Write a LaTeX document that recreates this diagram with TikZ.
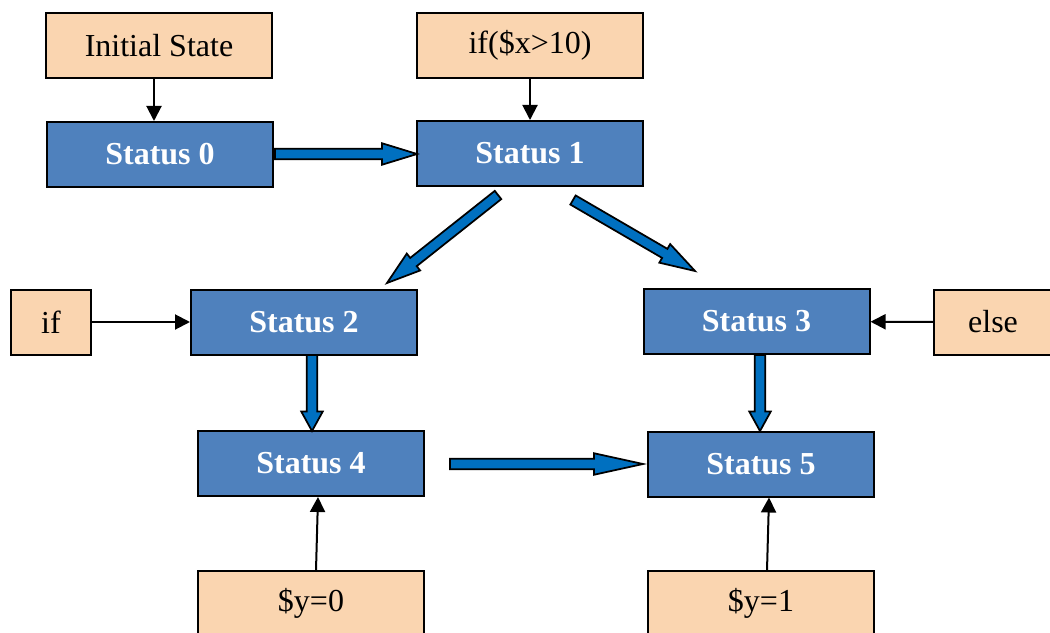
\documentclass[tikz,border=0pt]{standalone}
\usepackage{fontspec}
\setmainfont{Liberation Serif}
\usetikzlibrary{arrows.meta,positioning,calc}

\definecolor{peach}{RGB}{250,213,176}
\definecolor{stblue}{RGB}{79,129,189}
\definecolor{fatblue}{RGB}{0,112,192}

% block arrow between two named points: [head length]{from}{to}
\newcommand{\fatarrow}[3][14pt]{%
  \filldraw[fatline]
    ($(#2)!2.1pt!90:(#3)$)
    -- ($(#3)!#1!(#2)!2.1pt!-90:(#2)$)
    -- ($(#3)!#1!(#2)!4.3pt!-90:(#2)$)
    -- (#3)
    -- ($(#3)!#1!(#2)!4.3pt!90:(#2)$)
    -- ($(#3)!#1!(#2)!2.1pt!90:(#2)$)
    -- ($(#2)!2.1pt!-90:(#3)$)
    -- cycle;}

\begin{document}
\begin{tikzpicture}[
  x=0.4pt,y=-0.4pt,
  font=\fontsize{12.8pt}{15pt}\selectfont,
  box/.style={draw=black,line width=0.8pt,align=center,
              minimum height=26pt,minimum width=90.4pt,inner sep=2pt},
  cond/.style={box,fill=peach},
  status/.style={box,fill=stblue,text=white,font=\fontsize{12.8pt}{15pt}\selectfont\bfseries},
  link/.style={line width=0.8pt,-{Triangle[length=6pt,width=6pt]}},
  fatline/.style={fill=fatblue,draw=black,line width=0.7pt,line join=miter},
]
\useasboundingbox (0,0) rectangle (1050,632);

% ---- top row ------------------------------------------------------------
\node[cond]   (init) at (159,45.5)  {Initial State};
\node[cond]   (ifx)  at (530,45.5)  {if(\$x>10)};
\node[status] (S0)   at (160,154.5) {Status 0};
\node[status] (S1)   at (530,153.5) {Status 1};

\draw[link] ([xshift=-2pt]init.south) -- ([xshift=-2.4pt]S0.north);
\draw[link] (ifx) -- (S1);

% ---- middle row ---------------------------------------------------------
\node[cond,minimum width=32pt] (if)   at (51,322)    {if};
\node[status]                  (S2)   at (304,322)   {Status 2};
\node[status]                  (S3)   at (756.5,321.5) {Status 3};
\node[cond,minimum width=47.2pt] (else) at (993,322) {else};

\draw[link] (if) -- (S2);
\draw[link] (else) -- (S3);

% ---- lower rows ---------------------------------------------------------
\node[status] (S4) at (311,463.5) {Status 4};
\node[status] (S5) at (761,464)   {Status 5};
\node[cond]   (y0) at (311,603.5) {\$y=0};
\node[cond]   (y1) at (761,603.5) {\$y=1};

\draw[link] ([xshift=2pt]y0.north) -- ([xshift=2.8pt]S4.south);
\draw[link] ([xshift=2.4pt]y1.north) -- ([xshift=3.2pt]S5.south);

% ---- block arrows -------------------------------------------------------
\coordinate (a0s) at (275,154);
\coordinate (a0e) at (417,154);
\coordinate (a1s) at (498,195);
\coordinate (a1e) at (387,283);
\coordinate (a2s) at (573,200);
\coordinate (a2e) at (695,271);
\coordinate (a3s) at (312,355);
\coordinate (a3e) at (312,431);
\coordinate (a4s) at (450,464);
\coordinate (a4e) at (643,464);
\coordinate (a5s) at (760,355);
\coordinate (a5e) at (760,431);

\fatarrow{a0s}{a0e}
\fatarrow[13.5pt]{a1s}{a1e}
\fatarrow[14pt]{a2s}{a2e}
\fatarrow[7.8pt]{a3s}{a3e}
\fatarrow[19.6pt]{a4s}{a4e}
\fatarrow[7.8pt]{a5s}{a5e}

\end{tikzpicture}
\end{document}
